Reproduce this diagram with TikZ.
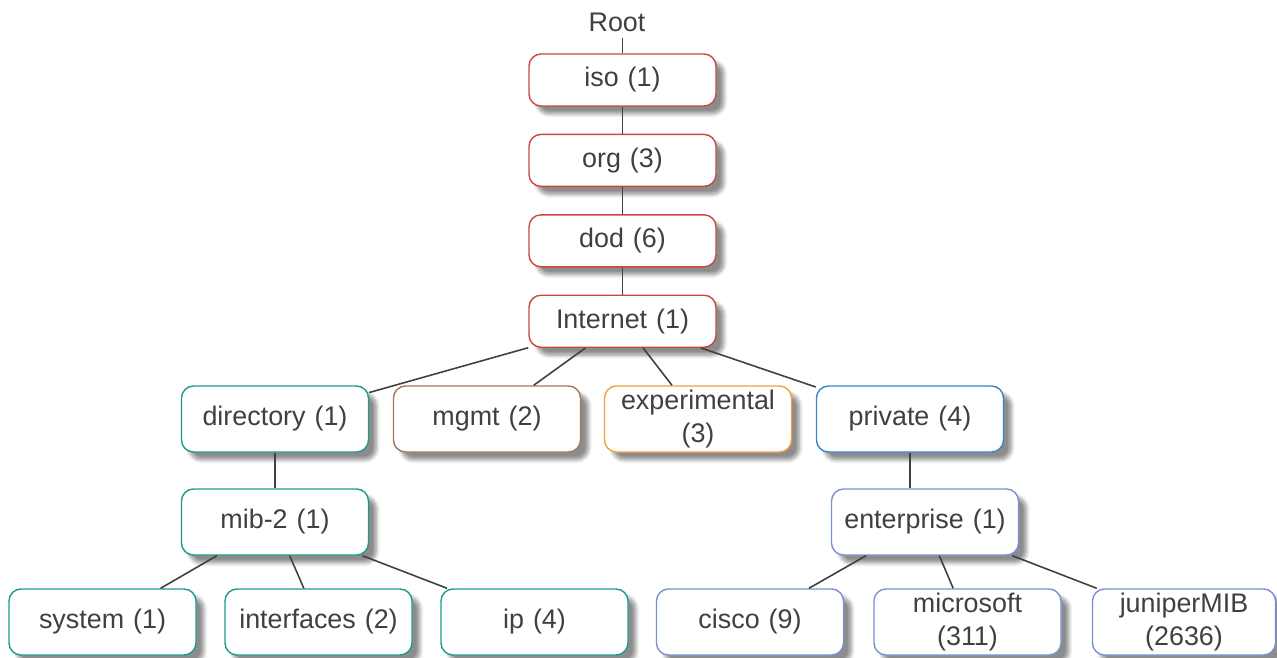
\documentclass[tikz,border=0pt]{standalone}
\usepackage{fontspec}
\setmainfont{Liberation Sans}
\usepackage{tikz}
\usetikzlibrary{positioning,shadows.blur}

\definecolor{topred}{HTML}{C9483C}
\definecolor{mibteal}{HTML}{1E9A8C}
\definecolor{mgmtbrown}{HTML}{A87560}
\definecolor{exporange}{HTML}{F0A040}
\definecolor{privblue}{HTML}{3A85C8}
\definecolor{entblue}{HTML}{7A90D0}
\definecolor{textgray}{HTML}{404040}

\begin{document}
\begin{tikzpicture}[
  font=\fontsize{15.3}{18.5}\selectfont,
  text=textgray,
  node distance=0.54cm,
  oid/.style={draw, line width=0.8pt, rounded corners=0.24cm, fill=white,
    minimum width=3.74cm, minimum height=1.32cm, text width=3.62cm, align=center, inner sep=0pt,
    blur shadow={shadow xshift=4.5pt, shadow yshift=-4.5pt, shadow blur steps=8, shadow opacity=45}},
  topbox/.style={oid, draw=topred, minimum height=1.04cm},
  link/.style={draw=textgray, line width=0.9pt}
]
\useasboundingbox (0,0) rectangle (25.54,-13.16);

% trunk
\node (root) at (12.34,-0.44) {Root};
\node[topbox] (iso) at (12.45,-1.60) {iso (1)};
\node[topbox, below=of iso] (org) {org (3)};
\node[topbox, below=of org] (dod) {dod (6)};
\node[topbox, below=of dod] (internet) {Internet (1)};

% second level
\node[oid, draw=mibteal] (directory) at (5.50,-8.38) {directory (1)};
\node[oid, draw=mgmtbrown] (mgmt) at (9.74,-8.38) {mgmt (2)};
\node[oid, draw=exporange] (experimental) at (13.96,-8.38) {experimental\\(3)};
\node[oid, draw=privblue] (private) at (18.20,-8.38) {private (4)};

% third level
\node[oid, draw=mibteal] (mib) at (5.50,-10.44) {mib-2 (1)};
\node[oid, draw=entblue] (enterprise) at (18.50,-10.44) {enterprise (1)};

% leaves
\node[oid, draw=mibteal] (system) at (2.05,-12.44) {system (1)};
\node[oid, draw=mibteal] (interfaces) at (6.37,-12.44) {interfaces (2)};
\node[oid, draw=mibteal] (ip) at (10.69,-12.44) {ip (4)};
\node[oid, draw=entblue] (cisco) at (15.00,-12.44) {cisco (9)};
\node[oid, draw=entblue] (microsoft) at (19.35,-12.44) {microsoft\\(311)};
\node[oid, draw=entblue, minimum width=3.66cm] (juniper) at (23.68,-12.44) {juniperMIB\\(2636)};

\draw[link] (iso.north |- root.south) -- (iso.north);
\draw[link] (iso) -- (org);
\draw[link] (org) -- (dod);
\draw[link] (dod) -- (internet);

\draw[link] (internet) -- (directory);
\draw[link] (internet) -- (mgmt);
\draw[link] (internet) -- (experimental);
\draw[link] (internet) -- (private);

\draw[link] (directory) -- (mib);
\draw[link] (private.south) -- (private.south |- enterprise.north);

\draw[link] (mib) -- (system);
\draw[link] (mib) -- (interfaces);
\draw[link] (mib) -- (ip);
\draw[link] (enterprise) -- (cisco);
\draw[link] (enterprise) -- (microsoft);
\draw[link] (enterprise) -- (juniper);
\end{tikzpicture}
\end{document}
